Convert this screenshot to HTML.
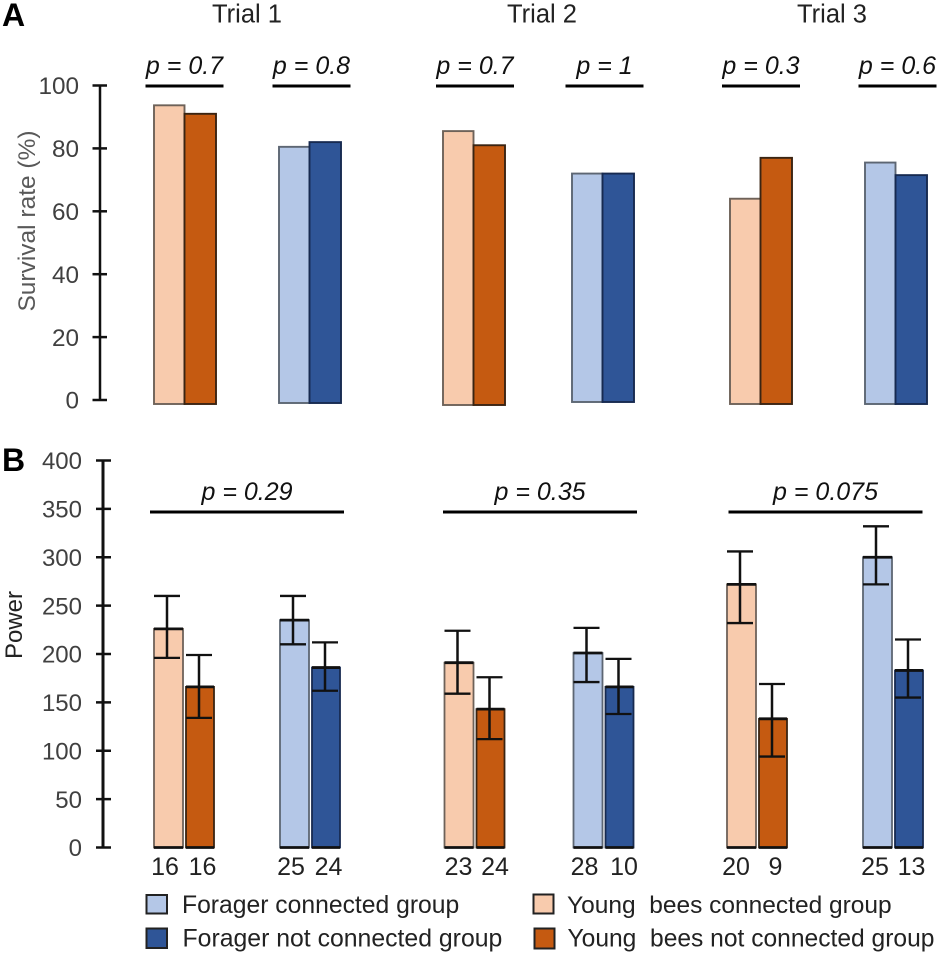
<!DOCTYPE html>
<html lang="en">
<head>
<meta charset="utf-8">
<title>Survival rate and power by trial</title>
<style>
  html, body { margin: 0; padding: 0; background: #fff; }
  #chart { display: block; width: 950px; height: 957px; }
  text { font-family: "Liberation Sans", Arial, sans-serif; white-space: pre; }
</style>
</head>
<body>
<svg id="chart" xmlns="http://www.w3.org/2000/svg" width="950" height="957" viewBox="0 0 950 957"></svg>
<script>
// ---- Data ----
const trials = ['Trial 1', 'Trial 2', 'Trial 3'];
const seriesNames = ['Young connected', 'Young not connected', 'Forager connected', 'Forager not connected'];

const survivalYoungConnected = [93.7, 85.5, 64];
const survivalYoungNot = [91, 81, 77];
const survivalForagerConnected = [80.5, 72, 75.5];
const survivalForagerNot = [82, 72, 71.5];
const survivalPYoung = ['p = 0.7', 'p = 0.7', 'p = 0.3'];
const survivalPForager = ['p = 0.8', 'p = 1', 'p = 0.6'];
const survivalTicks = [0, 20, 40, 60, 80, 100];

const powerYoungConnected = [226, 191, 272];
const powerYoungNot = [166, 143, 133];
const powerForagerConnected = [235, 201, 300];
const powerForagerNot = [186, 166, 183];
const upperYoungConnected = [260, 224, 306];
const upperYoungNot = [199, 176, 169];
const upperForagerConnected = [260, 227, 332];
const upperForagerNot = [212, 195, 215];
const lowerYoungConnected = [196, 159, 232];
const lowerYoungNot = [134, 112, 94];
const lowerForagerConnected = [210, 171, 272];
const lowerForagerNot = [162, 138, 155];
const countYoungConnected = [16, 23, 20];
const countYoungNot = [16, 24, 9];
const countForagerConnected = [25, 28, 25];
const countForagerNot = [24, 10, 13];
const powerP = ['p = 0.29', 'p = 0.35', 'p = 0.075'];
const powerTicks = [0, 50, 100, 150, 200, 250, 300, 350, 400];

// ---- Axis functions and layout ----
const svg = document.getElementById('chart');
const NS = 'http://www.w3.org/2000/svg';
const ySurvival = v => 400 - v * 3.145;
const yPower = v => 847.5 - v * 0.9675;
const leftA = t => (t === 0 ? 154 : t === 1 ? 443 : 730);
const leftB = t => (t === 0 ? 154 : t === 1 ? 444.5 : 727);
const groupOffsetA = t => (t === 0 ? 125 : t === 1 ? 129 : 135);
const groupOffsetB = t => (t === 0 ? 126 : t === 1 ? 129 : 136);
const bottomA = (t, s) => (t === 1 ? (s >= 2 ? 402 : 405) : (t === 0 && s >= 2 ? 403 : 404));
const bracketShift = (t, g) => (g ? 2 : t === 1 ? 1.5 : t === 2 ? 0.5 : 0);
const labelShift = (t, s) => {
  if (s % 2) return t === 1 ? 4.5 : 2.5;
  if (t === 1) return s === 0 ? -0.5 : -3.5;
  if (t === 2) return s === 0 ? -5.5 : -2.5;
  return -3.5;
};
const fillFor = s => ['#f8cbad', '#c55a11', '#b4c7e7', '#2f5597'][s];
const strokeFor = s => ['#6e6259', '#3a2412', '#5d6673', '#172a50'][s];

function make(tag, attrs, text) {
  const e = document.createElementNS(NS, tag);
  for (const k in attrs) e.setAttribute(k, attrs[k]);
  if (text !== undefined) e.textContent = text;
  svg.appendChild(e);
  return e;
}
const seg = (x1, y1, x2, y2, w, c) => make('line', { x1, y1, x2, y2, stroke: c || '#111', 'stroke-width': w });

// ---- Panel letters ----
let el = make('text', { x: 2, y: 26, 'font-size': 32, 'font-weight': 'bold', fill: '#000' }, 'A');


el = make('text', { x: 2, y: 471, 'font-size': 32, 'font-weight': 'bold', fill: '#000' }, 'B');



// ---- Trial titles ----
trials.forEach((name, t) => {
  const title = make('text', { x: 247 + t * 295 - (t === 2 ? 5 : 0), y: 22.5, 'font-size': 25.5, fill: '#222', 'text-anchor': 'middle' }, name);
  
  
});

// ---- Axis titles ----
el = make('text', { transform: 'translate(35 221) rotate(-90)', 'font-size': 24.5, fill: '#595959', 'text-anchor': 'middle' }, 'Survival rate (%)');


el = make('text', { transform: 'translate(22 625) rotate(-90)', 'font-size': 24, fill: '#222', 'text-anchor': 'middle' }, 'Power');



// ---- Survival y axis ----
el = seg(100, ySurvival(100), 100, ySurvival(0), 2.5);


survivalTicks.forEach(v => {
  const tick = seg(92.5, ySurvival(v), 107, ySurvival(v), 2.5);
  
  
  const label = make('text', { x: 79, y: ySurvival(v) + 8.7, 'font-size': 24.3, fill: '#404040', 'text-anchor': 'end' }, String(v));
  
  
});

// ---- Power y axis ----
el = seg(103, yPower(400), 103, yPower(0), 3);


powerTicks.forEach(v => {
  const tick = seg(96, yPower(v), 111, yPower(v), 2.5);
  
  
  const label = make('text', { x: 82, y: yPower(v) + 8.7, 'font-size': 24, fill: '#404040', 'text-anchor': 'end' }, String(v));
  
  
});

// ---- Panel A bars ----
const survivalSeries = [survivalYoungConnected, survivalYoungNot, survivalForagerConnected, survivalForagerNot];
trials.forEach((_, t) => {
  survivalSeries.forEach((values, s) => {
    const x = leftA(t) + (s >= 2 ? groupOffsetA(t) : 0) + (s % 2 ? 30.5 : 0);
    const w = s % 2 ? 31.5 : 30.5;
    const top = ySurvival(values[t]);
    const bar = make('rect', { x, y: top, width: w, height: bottomA(t, s) - top, fill: fillFor(s), stroke: strokeFor(s), 'stroke-width': 1.9 });
    
    
  });
  // significance brackets and p labels
  [[survivalPYoung, 0], [survivalPForager, 1]].forEach(([labels, g]) => {
    const cx = leftA(t) + 30.5 + (g ? groupOffsetA(t) : 0) + bracketShift(t, g);
    const line = seg(cx - 39, 86, cx + 39, 86, 3, '#000');
    
    
    const txt = make('text', { x: cx, y: 74, 'font-size': 25, 'font-style': 'italic', fill: '#111', 'text-anchor': 'middle' }, labels[t]);
    
    
  });
});

// ---- Panel B bars with error bars ----
const powerSeries = [powerYoungConnected, powerYoungNot, powerForagerConnected, powerForagerNot];
const upperSeries = [upperYoungConnected, upperYoungNot, upperForagerConnected, upperForagerNot];
const lowerSeries = [lowerYoungConnected, lowerYoungNot, lowerForagerConnected, lowerForagerNot];
const countSeries = [countYoungConnected, countYoungNot, countForagerConnected, countForagerNot];
trials.forEach((_, t) => {
  powerSeries.forEach((values, s) => {
    const x = leftB(t) + (s >= 2 ? groupOffsetB(t) : 0) + (s % 2 ? 32 : 0);
    const w = s % 2 ? 28 : 29;
    const top = yPower(values[t]);
    const bottom = yPower(0);
    const bar = make('rect', { x, y: top, width: w, height: bottom - top, fill: fillFor(s), stroke: strokeFor(s), 'stroke-width': 1.8 });
    
    
    const base = seg(x, bottom, x + w, bottom, 2.8);
    
    
    const mean = seg(x, top, x + w, top, 2.8);
    
    

    const cx = x + 13;
    const stem = seg(cx, yPower(upperSeries[s][t]), cx, yPower(lowerSeries[s][t]), 2.5);
    
    
    const capU = seg(cx - 13, yPower(upperSeries[s][t]), cx + 13, yPower(upperSeries[s][t]), 2.3);
    
    
    const capL = seg(cx - 13, yPower(lowerSeries[s][t]), cx + 13, yPower(lowerSeries[s][t]), 2.3);
    
    

    const label = make('text', { x: x + w / 2 + labelShift(t, s), y: 875, 'font-size': 25, fill: '#222', 'text-anchor': 'middle' }, String(countSeries[s][t]));
    
    
  });
  const cx = leftB(t) + (t === 0 ? 93 : t === 1 ? 95.5 : 98.5);
  const line = seg(cx - 97, 512, cx + 97, 512, 3, '#000');
  
  
  const txt = make('text', { x: cx, y: 500, 'font-size': 25, 'font-style': 'italic', fill: '#111', 'text-anchor': 'middle' }, powerP[t]);
  
  
});
</script>
<svg style="position:absolute;left:0;top:0" width="950" height="957" viewBox="0 0 950 957" xmlns="http://www.w3.org/2000/svg">
  <rect x="146.5" y="895" width="20.5" height="18.5" fill="#b4c7e7" stroke="#222" stroke-width="2"/>
  <text x="182" y="913" font-size="24.7" fill="#222">Forager connected group</text>
  <rect x="146.5" y="928.5" width="20.5" height="19.5" fill="#2f5597" stroke="#222" stroke-width="2"/>
  <text x="182.5" y="946.5" font-size="24.8" fill="#222">Forager not connected group</text>
  <rect x="533.5" y="894.5" width="20" height="19" fill="#f8cbad" stroke="#222" stroke-width="2"/>
  <text x="567" y="913" font-size="24.5" fill="#222">Young  bees connected group</text>
  <rect x="534.5" y="928.5" width="20" height="20" fill="#c55a11" stroke="#222" stroke-width="2"/>
  <text x="567.5" y="946.5" font-size="24.6" fill="#222">Young  bees not connected group</text>
</svg>
</body>
</html>
